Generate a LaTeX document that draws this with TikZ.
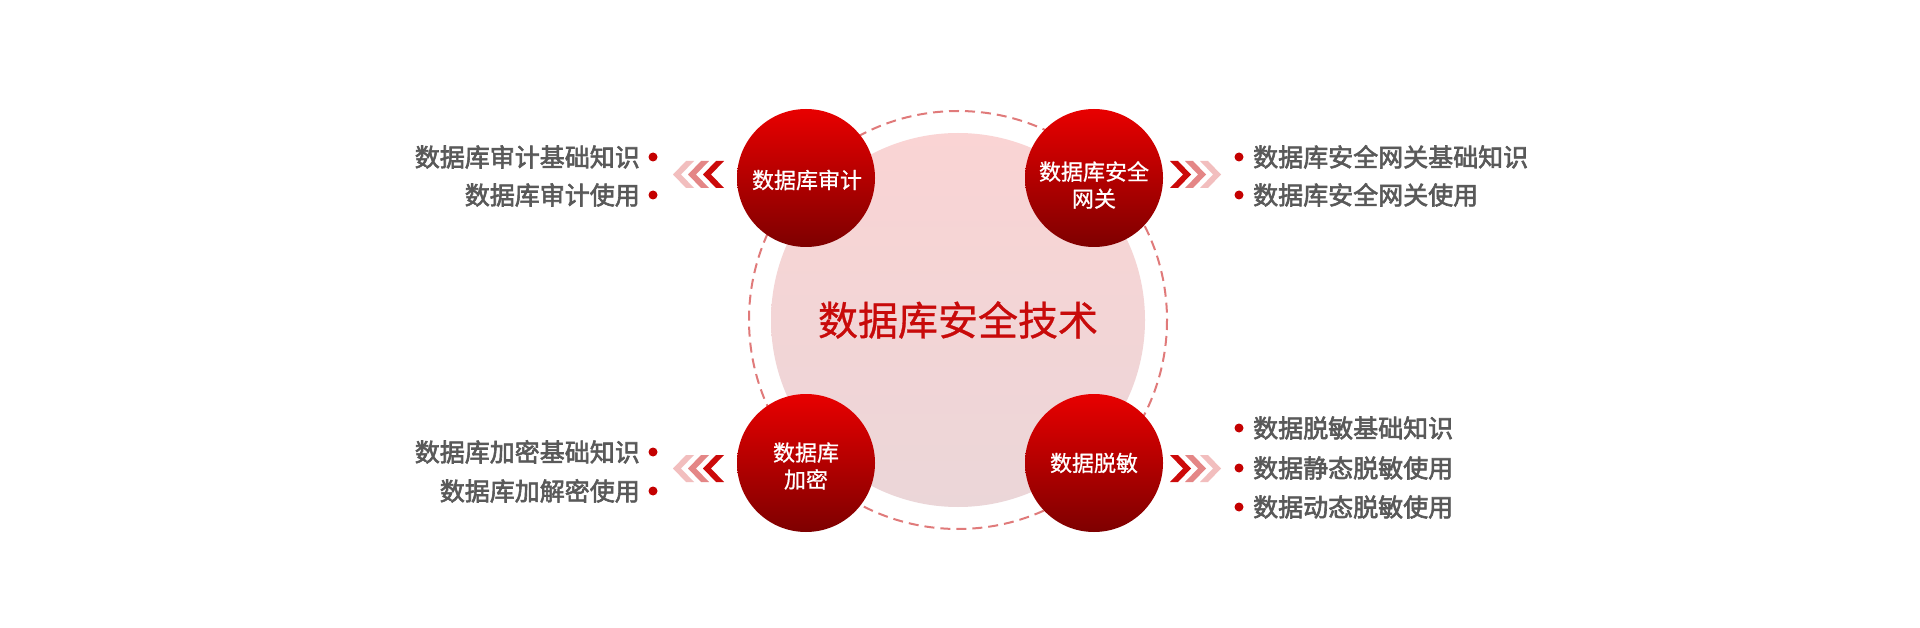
\documentclass[tikz,border=0pt]{standalone}
\usepackage{fontspec}
\newfontfamily\cjk{Noto Sans CJK SC}
\newfontfamily\cjkmed[FakeBold=2.4]{Noto Sans CJK SC}
\newfontfamily\cjklight[FakeBold=0.8]{Noto Sans CJK SC}
\definecolor{txtgray}{HTML}{595959}
\definecolor{dotred}{HTML}{C40000}
\definecolor{ballTop}{HTML}{E80000}
\definecolor{ballBot}{HTML}{7E0000}
\definecolor{paleTop}{HTML}{FAD4D4}
\definecolor{paleBot}{HTML}{EBD6D8}
\definecolor{dashRed}{HTML}{E07A7A}
\definecolor{titleRed}{HTML}{C80A0A}
\definecolor{chevDark}{HTML}{CC0A0A}
\definecolor{chevMid}{HTML}{E48686}
\definecolor{chevLight}{HTML}{F2BEBE}
\tikzset{
  item/.style={font=\cjkmed\fontsize{25}{30}\selectfont, text=txtgray, inner sep=0pt},
  bullet/.style={circle, fill=dotred, minimum size=9pt, inner sep=0pt},
  ball/.style={circle, minimum size=138pt, inner sep=0pt, top color=ballTop, bottom color=ballBot},
  balltext/.style={font=\cjklight\fontsize{22}{27}\selectfont, text=white, align=center, inner sep=0pt},
  dashcirc/.style={draw=dashRed, line width=2pt, dash pattern=on 10pt off 6pt},
}
\newcommand{\chevR}[3]{% x0, cy, color : pointing right
  \fill[#3] (#1,#2-13.5) -- (#1+8,#2-13.5) -- (#1+21,#2) -- (#1+8,#2+13.5) -- (#1,#2+13.5) -- (#1+13,#2) -- cycle;}
\newcommand{\chevL}[3]{% x0, cy, color : pointing left
  \fill[#3] (#1,#2) -- (#1+13,#2-13.5) -- (#1+21,#2-13.5) -- (#1+8,#2) -- (#1+21,#2+13.5) -- (#1+13,#2+13.5) -- cycle;}
\begin{document}
\begin{tikzpicture}[x=1pt,y=-1pt]
\useasboundingbox[fill=white] (0,0) rectangle (1920,628);
% central circles
\shade[top color=paleTop, bottom color=paleBot] (958,320) circle[radius=187];
\draw[dashcirc] (958,320) circle[radius=209];
\node[font=\cjklight\fontsize{40}{48}\selectfont, text=titleRed, inner sep=0pt] (title) at (958,320) {数据库安全技术};
% four balls
\node[ball] (c1) at (806,178) {};
\node[ball] (c2) at (1094,178) {};
\node[ball] (c3) at (806,463) {};
\node[ball] (c4) at (1094,463) {};
\node[balltext] (t1) at (807,180) {数据库审计};
\node[balltext] (t2) at (1094,185) {数据库安全\\网关};
\node[balltext] (t3) at (806,466) {数据库\\加密};
\node[balltext] (t4) at (1094,463) {数据脱敏};
% chevrons
\chevL{673}{174.5}{chevLight}\chevL{688}{174.5}{chevMid}\chevL{703}{174.5}{chevDark}
\chevL{673}{468.5}{chevLight}\chevL{688}{468.5}{chevMid}\chevL{703}{468.5}{chevDark}
\chevR{1170}{174.5}{chevDark}\chevR{1185}{174.5}{chevMid}\chevR{1200}{174.5}{chevLight}
\chevR{1170}{468.5}{chevDark}\chevR{1185}{468.5}{chevMid}\chevR{1200}{468.5}{chevLight}
% left top items
\node[bullet] (d1) at (653,157) {};
\node[bullet] (d2) at (653,195) {};
\node[item, anchor=base east] (l1) at (640,166.5) {数据库审计基础知识};
\node[item, anchor=base east] (l2) at (640,204.5) {数据库审计使用};
% left bottom items
\node[bullet] (d3) at (653,452) {};
\node[bullet] (d4) at (653,491) {};
\node[item, anchor=base east] (l3) at (640,461.5) {数据库加密基础知识};
\node[item, anchor=base east] (l4) at (640,500.5) {数据库加解密使用};
% right top items
\node[bullet] (d5) at (1239,157) {};
\node[bullet] (d6) at (1239,195) {};
\node[item, anchor=base west] (r1) at (1253,166.5) {数据库安全网关基础知识};
\node[item, anchor=base west] (r2) at (1253,204.5) {数据库安全网关使用};
% right bottom items
\node[bullet] (d7) at (1239,428) {};
\node[bullet] (d8) at (1239,468) {};
\node[bullet] (d9) at (1239,507) {};
\node[item, anchor=base west] (r3) at (1253,437.5) {数据脱敏基础知识};
\node[item, anchor=base west] (r4) at (1253,477.5) {数据静态脱敏使用};
\node[item, anchor=base west] (r5) at (1253,516.5) {数据动态脱敏使用};
\end{tikzpicture}
\end{document}
